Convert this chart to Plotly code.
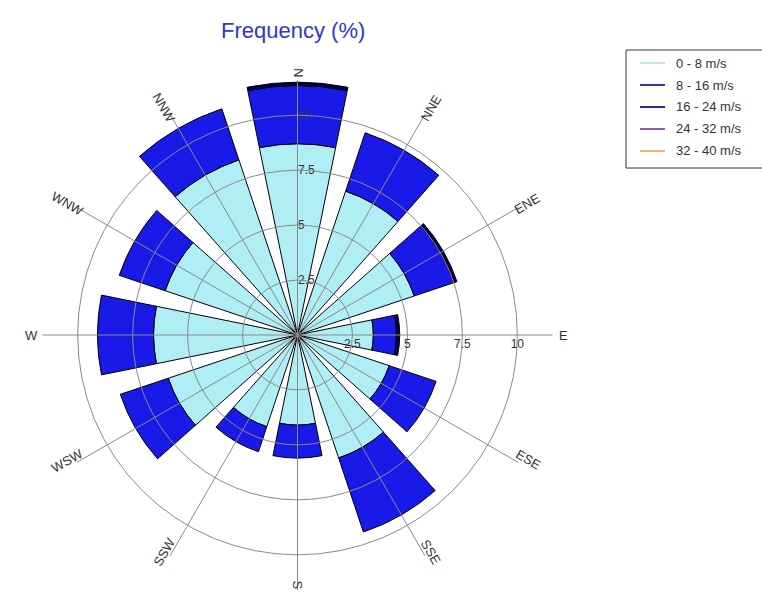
import math
import plotly.graph_objects as go

# ---- data -------------------------------------------------------------
directions = ["N", "NNE", "ENE", "E", "ESE", "SSE", "S", "SSW", "WSW", "W", "WNW", "NNW"]
dir_angles = [0, 30, 60, 90, 120, 150, 180, 210, 240, 270, 300, 330]
speed_bins = ["0 - 8 m/s", "8 - 16 m/s", "16 - 24 m/s", "24 - 32 m/s", "32 - 40 m/s"]

freq_0_8 = [8.7, 6.9, 5.6, 3.45, 4.4, 5.9, 4.1, 4.4, 6.2, 6.55, 6.35, 8.4]
freq_8_16 = [2.65, 2.8, 1.9, 1.05, 2.25, 3.55, 1.5, 1.2, 2.3, 2.55, 2.2, 2.45]
freq_16_24 = [0.15, 0, 0.15, 0.15, 0, 0, 0, 0, 0, 0, 0, 0]
freq_24_32 = [0, 0, 0, 0, 0, 0, 0, 0, 0, 0, 0, 0]
freq_32_40 = [0, 0, 0, 0, 0, 0, 0, 0, 0, 0, 0, 0]

radial_ticks = [2.5, 5, 7.5, 10]
radial_ticktext = ["2.5", "5", "7.5", "10"]

# ---- styling ------------------------------------------------------------
bar_colors = ["#b0eef6", "#1a1ae8", "#00004a", "#8a5aaa", "#f5b880"]
legend_colors = ["#c6e6e8", "#3535a8", "#2a2aa8", "#8a5cae", "#f4b47a"]
grid_color = "#8a8a8a"
font_family = "Liberation Sans, Arial, sans-serif"

W, H = 762, 593
CX, CY = 297.5, 335.0      # polar centre in pixels
R_PX = 255.0               # polar radius in pixels
R_MAX = 11.6               # radial range end
BAR_WIDTH = 23

dom_x = [(CX - R_PX) / W, (CX + R_PX) / W]
dom_y = [(H - CY - R_PX) / H, (H - CY + R_PX) / H]


def px_to_paper(px, py):
    return px / W, 1 - py / H


fig = go.Figure()

series = [freq_0_8, freq_8_16, freq_16_24, freq_24_32, freq_32_40]
for name, vals, col in zip(speed_bins, series, bar_colors):
    fig.add_trace(go.Barpolar(
        r=vals, theta=dir_angles, name=name, width=BAR_WIDTH,
        marker=dict(color=col, line=dict(color="#000000", width=1)),
        showlegend=False, subplot="polar",
    ))

# overlay subplot: carries the grid drawn above the bars
totals = [a + b + c for a, b, c in zip(freq_0_8, freq_8_16, freq_16_24)]
fig.add_trace(go.Scatterpolar(
    r=totals, theta=dir_angles, mode="markers",
    marker=dict(size=1, opacity=0), hoverinfo="skip",
    showlegend=False, subplot="polar2",
))

common_angular = dict(
    direction="clockwise", rotation=90, tickmode="array",
    tickvals=dir_angles, showticklabels=False, ticks="",
    showline=False,
)
common_radial = dict(
    range=[0, R_MAX], tickmode="array", tickvals=radial_ticks,
    ticktext=radial_ticktext, showline=False, ticks="",
    tickfont=dict(family=font_family, size=12, color="#333333"),
)

fig.update_layout(
    width=W, height=H,
    margin=dict(l=0, r=0, t=0, b=0),
    paper_bgcolor="white",
    font=dict(family=font_family),
    polar=dict(
        domain=dict(x=dom_x, y=dom_y), bgcolor="white", hole=0,
        barmode="stack",
        angularaxis=dict(common_angular, showgrid=False),
        radialaxis=dict(common_radial, angle=90, tickangle=90, showgrid=False),
    ),
    polar2=dict(
        domain=dict(x=dom_x, y=dom_y), bgcolor="rgba(0,0,0,0)",
        angularaxis=dict(common_angular, showgrid=True,
                         gridcolor=grid_color, gridwidth=1),
        radialaxis=dict(common_radial, angle=0, tickangle=0, showgrid=True,
                        gridcolor=grid_color, gridwidth=1.2),
    ),
)

annotations = []
# title
tx, ty = px_to_paper(293, 31)
annotations.append(dict(
    text="Frequency (%)", x=tx, y=ty, xref="paper", yref="paper",
    showarrow=False, xanchor="center", yanchor="middle",
    font=dict(family=font_family, size=22, color="#3434d2"),
))

# direction labels, rotated along their spokes
LABEL_RX = 266.0
LABEL_RY_TOP, LABEL_RY_BOTTOM = 262.0, 250.0
for lab, ang in zip(directions, dir_angles):
    a = math.radians(ang)
    ry = LABEL_RY_TOP if math.cos(a) > 0 else LABEL_RY_BOTTOM
    px = CX + LABEL_RX * math.sin(a)
    py = CY - ry * math.cos(a)
    rot = ang - 90
    if rot > 90:
        rot -= 180
    x, y = px_to_paper(px, py)
    annotations.append(dict(
        text=lab, x=x, y=y, xref="paper", yref="paper", showarrow=False,
        xanchor="center", yanchor="middle", textangle=rot,
        font=dict(family=font_family, size=13, color="#333333"),
    ))

# legend box with line keys
LEG_X0, LEG_Y0, ROW_H = 626, 50, 22
shapes = []
bx0, by0 = px_to_paper(LEG_X0, LEG_Y0)
bx1, by1 = px_to_paper(LEG_X0 + 160, LEG_Y0 + ROW_H * len(speed_bins) + 8)
shapes.append(dict(type="rect", xref="paper", yref="paper",
                   x0=bx0, y0=by1, x1=bx1, y1=by0,
                   line=dict(color="#333333", width=1), fillcolor="white",
                   layer="below"))
for i, (name, col) in enumerate(zip(speed_bins, legend_colors)):
    yrow = LEG_Y0 + 13 + i * ROW_H
    lx0, ly = px_to_paper(LEG_X0 + 14, yrow)
    lx1, _ = px_to_paper(LEG_X0 + 39, yrow)
    shapes.append(dict(type="line", xref="paper", yref="paper",
                       x0=lx0, x1=lx1, y0=ly, y1=ly,
                       line=dict(color=col, width=2)))
    tx, _ = px_to_paper(LEG_X0 + 48, yrow)
    annotations.append(dict(
        text=name, x=tx, y=ly, xref="paper", yref="paper", showarrow=False,
        xanchor="left", yanchor="middle",
        font=dict(family=font_family, size=13, color="#333333"),
    ))

fig.update_layout(annotations=annotations, shapes=shapes)

fig.write_html("out.html")
